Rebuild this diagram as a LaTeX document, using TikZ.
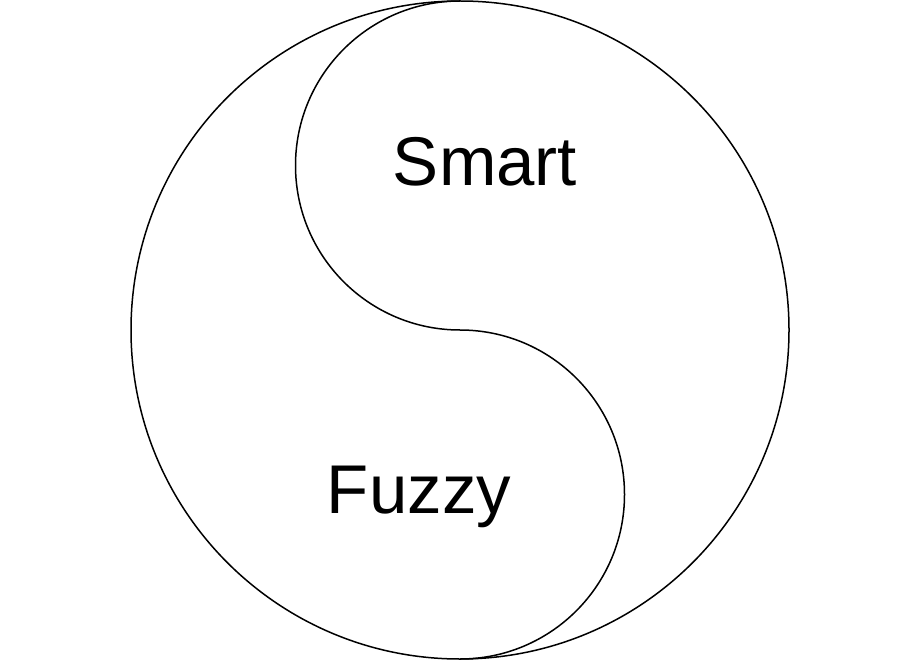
\documentclass[tikz,border=0pt]{standalone}
\usepackage{fontspec}
\setmainfont{Liberation Sans}
\begin{document}
\begin{tikzpicture}[x=1pt,y=-1pt,line width=1.5pt,
  lbl/.style={font=\fontsize{69}{80}\selectfont,inner sep=0pt}]
\useasboundingbox (0,0) rectangle (920,660);
\draw (460,330) circle[radius=329];
\draw (460,1) arc[start angle=270,end angle=90,radius=164.5]
      arc[start angle=270,end angle=450,radius=164.5];
\node[lbl] (s) at (485,162) {Smart};
\node[lbl] (f) at (419,497) {Fuzzy};
\end{tikzpicture}
\end{document}
